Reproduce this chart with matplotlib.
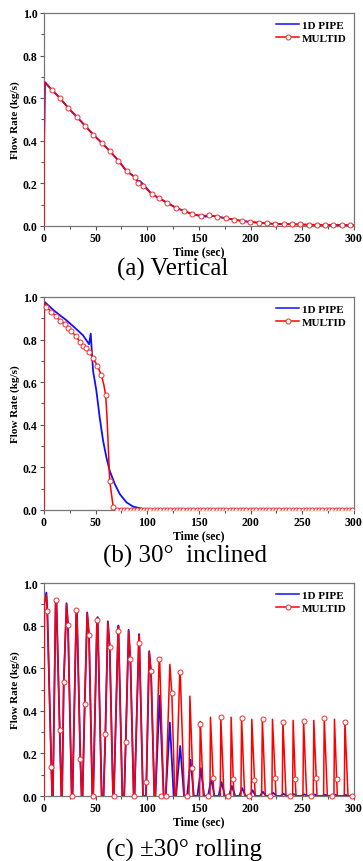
import numpy as np
import matplotlib
matplotlib.use('Agg')
import matplotlib.pyplot as plt
from matplotlib.lines import Line2D

plt.rcParams['font.family'] = ['Liberation Serif', 'DejaVu Serif']

BLUE = '#1010ff'
RED = '#ff0000'

# ---------- (a) Vertical ----------
a_red_t = [0, 0, 1.0, 7.4, 15.5, 23.5, 31.6, 39.7, 47.7, 55.8, 63.9, 71.9, 80.0, 88.1, 91.3,
           96.1, 104.2, 111.5, 119.5, 127.5, 135.7, 143.5, 151.7, 159.8, 167.8, 175.8, 183.9,
           191.9, 199.8, 207.8, 215.9, 223.9, 231.9, 240, 248, 256, 264, 272, 280, 288, 296, 300]
a_red_y = [0, 0.675, 0.672, 0.640, 0.600, 0.554, 0.513, 0.471, 0.429, 0.390, 0.351, 0.307,
           0.257, 0.229, 0.202, 0.189, 0.150, 0.130, 0.108, 0.086, 0.070, 0.056, 0.048, 0.050,
           0.044, 0.036, 0.030, 0.023, 0.019, 0.015, 0.012, 0.010, 0.009, 0.008, 0.007, 0.006,
           0.005, 0.005, 0.004, 0.004, 0.003, 0.003]
a_blue_t = [0, 1.0, 7.4, 15.5, 23.5, 31.6, 39.7, 47.7, 55.8, 63.9, 71.9, 80.0, 88.1, 90.5, 93.0,
            96.1, 104.2, 111.5, 119.5, 127.5, 135.7, 143.5, 151.7, 156.5, 159.8, 167.8, 175.8,
            183.9, 191.9, 199.8, 207.8, 215.9, 223.9, 231.9, 240, 256, 272, 288, 300]
a_blue_y = [0.34, 0.675, 0.640, 0.600, 0.554, 0.513, 0.471, 0.429, 0.390, 0.351, 0.307, 0.257,
            0.229, 0.212, 0.210, 0.195, 0.150, 0.130, 0.108, 0.086, 0.070, 0.056, 0.046, 0.044,
            0.049, 0.044, 0.036, 0.030, 0.023, 0.019, 0.015, 0.012, 0.010, 0.009, 0.008, 0.006,
            0.005, 0.004, 0.003]
a_mark_t = a_red_t[3:-1]
a_mark_y = a_red_y[3:-1]

# ---------- (b) 30 deg inclined ----------
b_red_t = [0, 0, 2.3, 7.1, 11.3, 15.8, 20.0, 23.2, 26.5, 30.7, 34.5, 37.8, 41.0, 43.6, 47.5,
           51.7, 55.5, 57.8, 59.7, 61.0, 63.6, 66.9, 68.5, 300]
b_red_y = [0, 0.975, 0.953, 0.931, 0.911, 0.888, 0.875, 0.856, 0.838, 0.817, 0.791, 0.770,
           0.762, 0.742, 0.713, 0.677, 0.633, 0.590, 0.539, 0.434, 0.1375, 0.016, 0.003, 0.0]
b_mark_t = [2.3, 7.1, 11.3, 15.8, 20.0, 23.2, 26.5, 30.7, 34.5, 37.8, 41.0, 43.6, 47.5, 51.7,
            55.5, 59.7, 63.6, 67.1]
b_mark_y = [0.953, 0.931, 0.911, 0.888, 0.875, 0.856, 0.838, 0.817, 0.791, 0.770, 0.762,
            0.742, 0.713, 0.677, 0.633, 0.539, 0.1375, 0.015]
b_base_t = np.arange(71.0, 300.0, 3.2)   # sampling grid of markers lying on the zero line
b_base_y = np.zeros_like(b_base_t)
b_blue_t = [0, 0.3, 10.0, 21.6, 30.0, 37.8, 43.6, 45.2, 47.5, 50.7, 53.9, 57.2, 60.4, 63.6,
            68.5, 73.3, 79.8, 86.2, 95.9, 105.6, 300]
b_blue_y = [0.50, 0.978, 0.935, 0.891, 0.855, 0.820, 0.778, 0.828, 0.653, 0.560, 0.434,
            0.325, 0.247, 0.184, 0.122, 0.075, 0.036, 0.016, 0.005, 0.0, 0.0]

# ---------- (c) +-30 deg rolling ----------
c_red_t = [0, 0.3, 2.3, 3.2, 7.1, 7.9,
           8.6, 11.3, 12.0, 15.2, 16.8,
           17.5, 19.1, 21.8, 23.2, 26.8,
           27.6, 31.3, 31.8, 35.2, 36.4,
           37.3, 39.4, 41.8, 43.6, 46.8,
           47.6, 51.3, 51.9, 55.8,
           57.6, 59.4, 61.8, 63.6, 66.8,
           67.6, 71.7, 72.0, 75.8,
           77.6, 79.1, 81.9, 83.6, 86.8,
           87.6, 91.7, 92.1, 95.8,
           98.6, 99.1, 101.8, 103.6, 106.8,
           107.8, 111.4, 111.9, 115.8,
           117.8, 121.8, 123.7, 126.6,
           127.8, 131.4, 131.8, 135.8,
           140.3, 141.2, 143.7, 144.4,
           150.6, 151.2, 151.4, 154.2,
           160.6, 161.1, 163.7, 164.4,
           170.6, 171.1, 174.2,
           180.6, 181.1, 183.1, 183.9,
           190.6, 191.2, 194.2,
           200.6, 201.1, 203.7, 204.4,
           210.6, 211.3, 214.2,
           220.6, 221.1, 223.8, 224.5,
           230.6, 231.2, 234.2,
           240.6, 241.1, 243.1, 243.9,
           250.6, 251.2, 254.2,
           260.6, 261.1, 263.5, 264.2,
           270.6, 271.2, 274.2,
           280.6, 281.1, 283.2, 283.9,
           290.6, 291.2, 294.2, 300]
c_red_y = [0, 0.90, 0.945, 0.867, 0.1375, 0,
           0, 0.920, 0.915, 0.310, 0,
           0, 0.536, 0.900, 0.805, 0,
           0, 0.872, 0.874, 0.172, 0,
           0, 0.430, 0.858, 0.756, 0,
           0, 0.825, 0.832, 0,
           0, 0.290, 0.815, 0.700, 0,
           0, 0.773, 0.795, 0,
           0, 0.255, 0.775, 0.645, 0,
           0, 0.716, 0.755, 0,
           0, 0.066, 0.678, 0.586, 0,
           0, 0.644, 0.646, 0,
           0, 0.618, 0.484, 0,
           0, 0.580, 0.585, 0,
           0, 0.469, 0.130, 0,
           0, 0.350, 0.339, 0,
           0, 0.370, 0.083, 0,
           0, 0.369, 0,
           0, 0.370, 0.081, 0,
           0, 0.366, 0,
           0, 0.360, 0.077, 0,
           0, 0.3625, 0,
           0, 0.360, 0.083, 0,
           0, 0.352, 0,
           0, 0.355, 0.081, 0,
           0, 0.355, 0,
           0, 0.355, 0.083, 0,
           0, 0.367, 0,
           0, 0.360, 0.081, 0,
           0, 0.350, 0, 0]
c_mark_t = [3.2, 7.1, 11.3, 15.2, 19.1, 23.2, 27.2, 31.3, 35.2, 39.4, 43.6, 47.5, 51.3, 59.4,
            63.6, 67.5, 71.7, 79.1, 83.6, 87.5, 91.7, 99.1, 103.6, 111.4, 113.5, 118.0, 123.7,
            131.4, 138.5, 143.7, 151.4, 158.5, 163.7, 171.1, 178.5, 183.1, 191.5, 198.5, 203.7,
            211.5, 218.5, 223.8, 231.2, 238.5, 243.1, 251.2, 258.5, 263.5, 271.2, 278.5, 283.2,
            291.2, 298.5]
c_mark_y = [0.867, 0.1375, 0.920, 0.310, 0.536, 0.805, 0, 0.872, 0.172, 0.430, 0.756, 0, 0.825,
            0.290, 0.700, 0, 0.773, 0.255, 0.645, 0, 0.716, 0.066, 0.586, 0.644, 0, 0, 0.484,
            0.580, 0, 0.130, 0.339, 0, 0.083, 0.369, 0, 0.081, 0.366, 0, 0.077, 0.3625, 0, 0.083,
            0.348, 0, 0.081, 0.352, 0, 0.083, 0.367, 0, 0.081, 0.347, 0]
c_blue_t = [0, 0.3, 2.3, 3.2, 7.1, 7.9,
            8.6, 11.3, 12.0, 15.2, 16.8,
            17.5, 19.1, 21.8, 23.2, 26.8,
            27.6, 31.3, 31.8, 35.2, 36.4,
            37.3, 39.4, 41.8, 43.6, 46.8,
            47.6, 51.3, 51.9, 55.8,
            57.6, 59.4, 61.8, 63.6, 66.8,
            67.6, 71.7, 72.0, 75.8,
            77.6, 79.1, 81.9, 83.6, 86.8,
            87.6, 91.7, 92.1, 95.8,
            98.6, 99.1, 101.8, 103.6, 106.8,
            107.8, 111.9, 115.8,
            117.8, 121.8, 125.5,
            127.8, 131.8, 135.5,
            138.5, 141.8, 145.0,
            148.5, 151.8, 155.0,
            158.8, 161.8, 165.0,
            169.0, 171.8, 175.0,
            179.0, 181.8, 185.0,
            189.0, 191.8, 195.0,
            199.0, 201.8, 205.0,
            209.0, 211.8, 215.0,
            219.0, 221.8, 225.0,
            229.0, 231.8, 235.0,
            239.0, 241.8, 245.0,
            249.0, 251.8, 255.0,
            259.0, 261.8, 265.0,
            269.0, 271.8, 275.0,
            279.0, 281.8, 285.0,
            289.0, 291.8, 295.0, 300]
c_blue_y = [0, 0.91, 0.955, 0.870, 0.140, 0,
            0, 0.915, 0.925, 0.310, 0,
            0, 0.530, 0.905, 0.810, 0,
            0, 0.870, 0.878, 0.170, 0,
            0, 0.430, 0.862, 0.750, 0,
            0, 0.825, 0.840, 0,
            0, 0.290, 0.820, 0.700, 0,
            0, 0.773, 0.800, 0,
            0, 0.250, 0.780, 0.640, 0,
            0, 0.716, 0.760, 0,
            0, 0.066, 0.680, 0.580, 0,
            0, 0.470, 0,
            0, 0.345, 0,
            0, 0.235, 0,
            0, 0.170, 0,
            0, 0.130, 0,
            0, 0.080, 0,
            0, 0.065, 0,
            0, 0.047, 0,
            0, 0.037, 0,
            0, 0.027, 0,
            0, 0.020, 0,
            0, 0.015, 0,
            0, 0.011, 0,
            0, 0.009, 0,
            0, 0.008, 0,
            0, 0.007, 0,
            0, 0.006, 0,
            0, 0.006, 0,
            0, 0.005, 0, 0]

panels = [
    (a_blue_t, a_blue_y, a_red_t, a_red_y, [(a_mark_t, a_mark_y, False)], '(a) Vertical', 0.7367, 0.475, 0.687),
    (b_blue_t, b_blue_y, b_red_t, b_red_y, [(b_mark_t, b_mark_y, False), (b_base_t, b_base_y, True)],
     '(b) 30°  inclined', 0.4072, 0.509, 0.354),
    (c_blue_t, c_blue_y, c_red_t, c_red_y, [(c_mark_t, c_mark_y, False)], '(c) ±30° rolling', 0.0754, 0.507, 0.013),
]

fig = plt.figure(figsize=(3.63, 8.62), dpi=100)
for bt, by, rt, ry, marks, cap, bottom, cx, cy in panels:
    ax = fig.add_axes([0.1212, bottom, 0.854, 0.2471])
    ax.plot(bt, by, color=BLUE, lw=1.3, zorder=2)
    ax.plot(rt, ry, color=RED, lw=1.1, zorder=3)
    for mt, my, clip in marks:
        ax.plot(mt, my, ls='none', marker='o', ms=3.6, mfc='white', mec='#f03030', mew=0.7,
                zorder=4, clip_on=clip)
    ax.set_xlim(0, 300)
    ax.set_ylim(0, 1.0)
    ax.set_xticks([0, 50, 100, 150, 200, 250, 300])
    ax.set_xticks([25, 75, 125, 175, 225, 275], minor=True)
    ax.set_yticks([0.0, 0.2, 0.4, 0.6, 0.8, 1.0])
    ax.set_yticks([0.1, 0.3, 0.5, 0.7, 0.9], minor=True)
    ax.set_yticklabels(['0.0', '0.2', '0.4', '0.6', '0.8', '1.0'])
    ax.tick_params(which='both', direction='out', colors='#555555', labelcolor='black', width=0.8)
    ax.tick_params(which='major', length=3, labelsize=8.5, pad=1.5)
    ax.tick_params(which='minor', length=2)
    for lab in ax.get_xticklabels() + ax.get_yticklabels():
        lab.set_fontweight('bold')
    for sp in ax.spines.values():
        sp.set_color('#777777')
        sp.set_linewidth(0.9)
    ax.set_xlabel('Time (sec)', fontsize=8.5, fontweight='bold', labelpad=1)
    ax.set_ylabel('Flow Rate (kg/s)', fontsize=8, fontweight='bold', labelpad=2)
    handles = [Line2D([], [], color=BLUE, lw=1.1),
               Line2D([], [], color=RED, lw=1.1, marker='o', ms=3.6, mfc='white', mec='#f03030', mew=0.7)]
    ax.legend(handles, ['1D PIPE', 'MULTID'], loc='upper right', frameon=False,
              prop={'weight': 'bold', 'size': 8}, handlelength=2.0, handletextpad=0.3,
              labelspacing=0.3, borderaxespad=0.25, numpoints=1)
    fig.text(cx, cy, cap, ha='center', va='center', fontsize=18)

fig.savefig('out.png', dpi=100)
